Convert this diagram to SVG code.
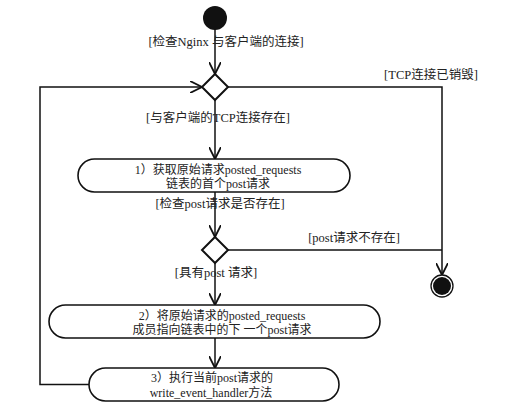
<svg xmlns="http://www.w3.org/2000/svg" width="515" height="413" viewBox="0 0 515 413">
<defs>
<style>
text{font-family:"Liberation Serif","Noto Sans CJK SC",serif;fill:#222;text-anchor:middle}
.lbl{font-size:12.5px}
.box{font-size:12px}
.act{fill:#fff;stroke:#111;stroke-width:1.6}
.dec{fill:#fff;stroke:#111;stroke-width:2}
.ln{fill:none;stroke:#111;stroke-width:1.5}
</style>
<marker id="arr" markerWidth="12" markerHeight="12" refX="10" refY="5" orient="auto" markerUnits="userSpaceOnUse" viewBox="0 0 10 10">
<path d="M0,0 L10,5 L0,10" fill="none" stroke="#111" stroke-width="1.5"/>
</marker>
</defs>
<rect width="515" height="413" fill="#fff"/>
<g id="connectors">
<path class="ln" d="M215,29 V74" marker-end="url(#arr)"/>
<path class="ln" d="M215,100 V159" marker-end="url(#arr)"/>
<path class="ln" d="M215,192 V237" marker-end="url(#arr)"/>
<path class="ln" d="M215,263 V305" marker-end="url(#arr)"/>
<path class="ln" d="M215,338 V368" marker-end="url(#arr)"/>
<path class="ln" d="M89,384.5 H40 V87 H202" marker-end="url(#arr)"/>
<path class="ln" d="M228,87 H442 V275" marker-end="url(#arr)"/>
<path class="ln" d="M228,250 H442"/>
</g>
<g id="start"><circle cx="215" cy="18" r="12" fill="#111"/></g>
<g id="decision1"><polygon class="dec" points="215,74 228,87 215,100 202,87"/></g>
<g id="act1">
<rect class="act" x="78" y="159" width="272" height="33" rx="16.5"/>
<text class="box" x="218" y="174">1）获取原始请求posted_requests</text>
<text class="box" x="218" y="188">链表的首个post请求</text>
</g>
<g id="decision2"><polygon class="dec" points="215,237 228,250 215,263 202,250"/></g>
<g id="act2">
<rect class="act" x="49" y="305" width="331" height="33" rx="16.5"/>
<text class="box" x="222" y="319.5">2）将原始请求的posted_requests</text>
<text class="box" x="222" y="334">成员指向链表中的下 一个post请求</text>
</g>
<g id="act3">
<rect class="act" x="89" y="368" width="250" height="33" rx="16.5"/>
<text class="box" x="212" y="382">3）执行当前post请求的</text>
<text class="box" x="211" y="397">write_event_handler方法</text>
</g>
<g id="end">
<circle cx="442" cy="286" r="11" fill="none" stroke="#111" stroke-width="1.3"/>
<circle cx="442" cy="286" r="9" fill="#111"/>
</g>
<g id="labels">
<text class="lbl" x="226" y="45.5">[检查Nginx 与客户端的连接]</text>
<text class="lbl" x="431" y="78.5">[TCP连接已销毁]</text>
<text class="lbl" x="218" y="121.5">[与客户端的TCP连接存在]</text>
<text class="lbl" x="220" y="207.5">[检查post请求是否存在]</text>
<text class="lbl" x="354" y="241.5">[post请求不存在]</text>
<text class="lbl" x="216" y="276.5">[具有post 请求]</text>
</g>
</svg>
